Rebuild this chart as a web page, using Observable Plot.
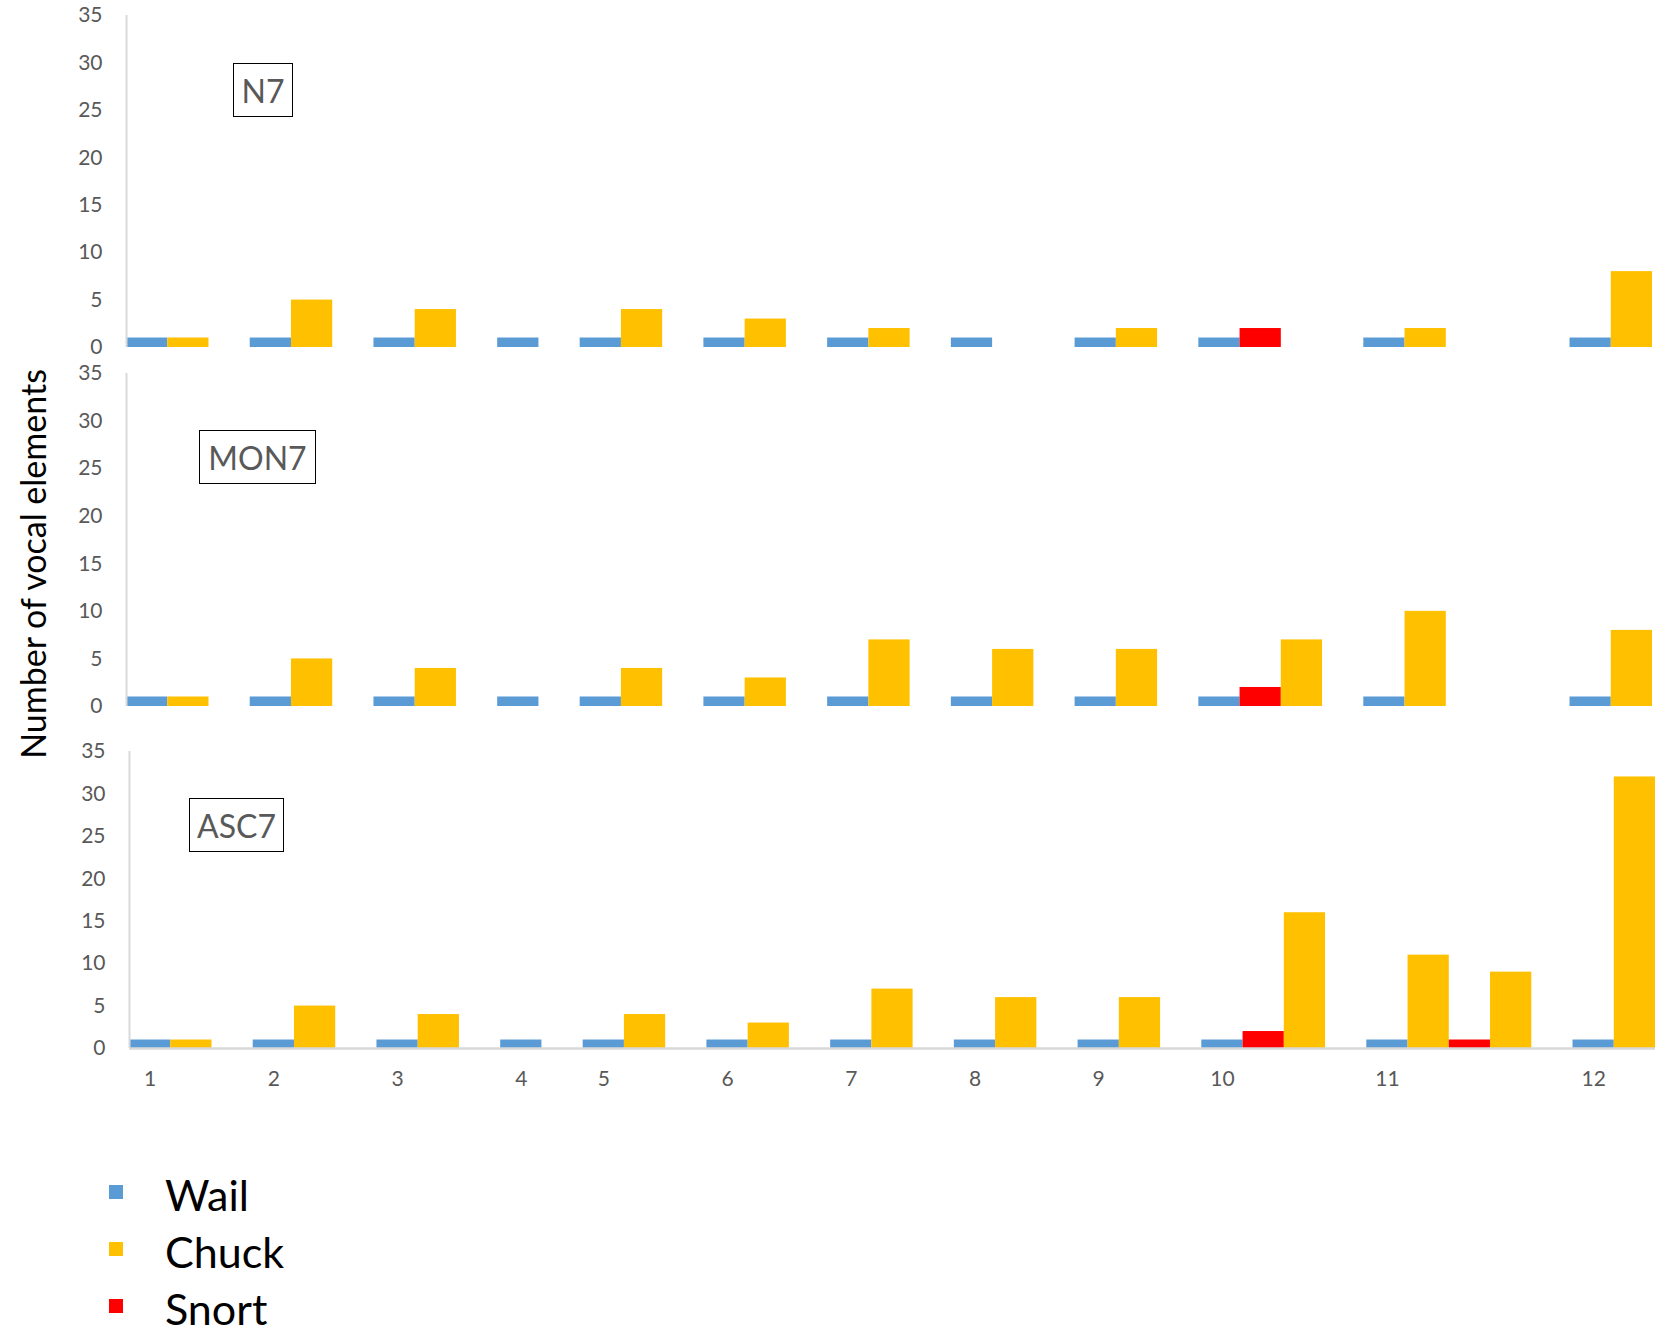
<!DOCTYPE html>
<html>
<head>
<meta charset="utf-8">
<script src="https://cdn.jsdelivr.net/npm/d3@7"></script>
<script src="https://cdn.jsdelivr.net/npm/@observablehq/plot@0.6"></script>
<style>
  body { margin: 0; background: #fff; font-family: Lato, "Open Sans", sans-serif; }
  #root { position: relative; width: 1665px; height: 1333px; overflow: hidden; background: #fff; }
  .panel { position: absolute; left: 0; }
  .tag { position: absolute; border: 1.5px solid #000; box-sizing: border-box; font-size: 32px; color: #595959;
         display: flex; align-items: center; justify-content: center; }
  #ytitle { position: absolute; width: 500px; height: 40px; line-height: 40px; text-align: center;
            font-size: 34px; color: #000; transform: rotate(-90deg); transform-origin: 50% 50%; white-space: nowrap; }
  #legend { position: absolute; left: 0; top: 1150px; }
</style>
</head>
<body>
<div id="root"></div>
<script>
// ---------------- data ----------------
const seriesNames = ["Wail", "Chuck", "Snort"];
const seriesColors = ["#5B9BD5", "#FFC000", "#FF0000"];

// one entry per bar slot along the x axis (label shown under the first bar of each group)
const slotLabels = [
  "1", "", "",  "2", "", "",  "3", "", "",  "4", "",  "5", "", "",  "6", "", "",
  "7", "", "",  "8", "", "",  "9", "", "",  "10", "", "", "",  "11", "", "", "", "",  "12", ""
];
const slotSeries = [
  "Wail", "Chuck", "",  "Wail", "Chuck", "",  "Wail", "Chuck", "",  "Wail", "",  "Wail", "Chuck", "",
  "Wail", "Chuck", "",  "Wail", "Chuck", "",  "Wail", "Chuck", "",  "Wail", "Chuck", "",
  "Wail", "Snort", "Chuck", "",  "Wail", "Chuck", "Snort", "Chuck", "",  "Wail", "Chuck"
];

const panelNames = ["N7", "MON7", "ASC7"];
const valuesN7 = [
  1, 1, 0,  1, 5, 0,  1, 4, 0,  1, 0,  1, 4, 0,  1, 3, 0,  1, 2, 0,  1, 0, 0,  1, 2, 0,
  1, 2, 0, 0,  1, 2, 0, 0, 0,  1, 8
];
const valuesMON7 = [
  1, 1, 0,  1, 5, 0,  1, 4, 0,  1, 0,  1, 4, 0,  1, 3, 0,  1, 7, 0,  1, 6, 0,  1, 6, 0,
  1, 2, 7, 0,  1, 10, 0, 0, 0,  1, 8
];
const valuesASC7 = [
  1, 1, 0,  1, 5, 0,  1, 4, 0,  1, 0,  1, 4, 0,  1, 3, 0,  1, 7, 0,  1, 6, 0,  1, 6, 0,
  1, 2, 16, 0,  1, 11, 1, 9, 0,  1, 32
];
const yTicks = [0, 5, 10, 15, 20, 25, 30, 35];
const yTitle = "Number of vocal elements";

// ---------------- layout ----------------
const W = 1665;
const panels = [
  { name: panelNames[0], values: valuesN7,   top: 0,   height: 362, mt: 15, mb: 15, ml: 126, mr: 13, xAxis: false,
    tag: { left: 233, top: 63, w: 60, h: 54 } },
  { name: panelNames[1], values: valuesMON7, top: 358, height: 362, mt: 15, mb: 14, ml: 126, mr: 13, xAxis: false,
    tag: { left: 199, top: 430, w: 117, h: 54 } },
  { name: panelNames[2], values: valuesASC7, top: 720, height: 400, mt: 31, mb: 72, ml: 129, mr: 10, xAxis: true,
    tag: { left: 189, top: 798, w: 95, h: 54 } }
];

const root = document.getElementById("root");
const nSlots = slotLabels.length;
const tickPos = slotLabels.map((l, i) => (l ? i + 0.5 : null)).filter((d) => d !== null);

for (const p of panels) {
  const rows = p.values
    .map((v, i) => ({ i, series: slotSeries[i], value: v }))
    .filter((d) => d.series && d.value > 0);

  const marks = [
    Plot.rectY(rows, { x1: "i", x2: (d) => d.i + 1, y1: 0, y2: "value", fill: "series" }),
    Plot.ruleX([0], { y1: 0, y2: 35, stroke: "#D9D9D9", strokeWidth: 2 })
  ];
  if (p.xAxis) marks.push(Plot.ruleY([0], { stroke: "#D9D9D9", strokeWidth: 2.5 }));

  const chart = Plot.plot({
    width: W,
    height: p.height,
    marginTop: p.mt,
    marginBottom: p.mb,
    marginLeft: p.ml,
    marginRight: p.mr,
    style: { fontFamily: "Lato, 'Open Sans', sans-serif", fontSize: "21px", color: "#595959", background: "transparent" },
    x: p.xAxis
      ? { domain: [0, nSlots], ticks: tickPos, tickFormat: (d) => slotLabels[Math.floor(d)], tickSize: 0, tickPadding: 23, label: null }
      : { domain: [0, nSlots], axis: null },
    y: { domain: [0, 35], ticks: yTicks, tickSize: 0, tickPadding: 24, label: null },
    color: { domain: seriesNames, range: seriesColors },
    marks
  });

  const wrap = document.createElement("div");
  wrap.className = "panel";
  wrap.style.top = p.top + "px";
  wrap.appendChild(chart);
  root.appendChild(wrap);

  const tag = document.createElement("div");
  tag.className = "tag";
  tag.style.left = p.tag.left + "px";
  tag.style.top = p.tag.top + "px";
  tag.style.width = p.tag.w + "px";
  tag.style.height = p.tag.h + "px";
  tag.textContent = p.name;
  root.appendChild(tag);
}

// y-axis title
const yt = document.createElement("div");
yt.id = "ytitle";
yt.textContent = yTitle;
yt.style.left = (33 - 250) + "px";
yt.style.top = (564 - 20) + "px";
root.appendChild(yt);

// legend
const leg = d3.create("svg").attr("width", 400).attr("height", 183).attr("id", "legend");
seriesNames.forEach((s, k) => {
  const base = 61 + k * 57;
  leg.append("rect").attr("x", 109).attr("y", base - 26).attr("width", 14).attr("height", 14).attr("fill", seriesColors[k]);
  leg.append("text").attr("x", 165).attr("y", base).attr("font-size", 43).attr("font-family", "Lato, 'Open Sans', sans-serif")
    .attr("fill", "#000").text(s);
});
root.appendChild(leg.node());
</script>
</body>
</html>
